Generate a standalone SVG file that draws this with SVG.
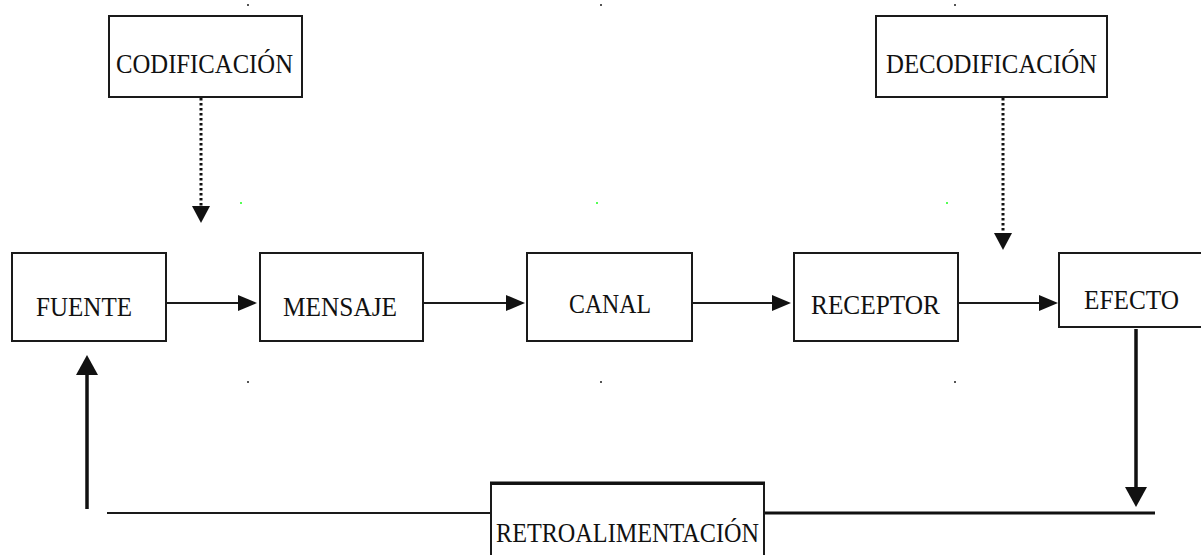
<svg xmlns="http://www.w3.org/2000/svg" width="1201" height="555" viewBox="0 0 1201 555">
<style>
.box{fill:#fff;stroke:#1a1a1a;stroke-width:2}
.lbl{font-family:"Liberation Serif","Times New Roman",serif;font-size:28px;fill:#111}
.ln{stroke:#1a1a1a;stroke-width:2;fill:none}
.thick{stroke:#111;stroke-width:3.5;fill:none}
.dot{stroke:#111;stroke-width:3;stroke-dasharray:2.5 2.5;fill:none}
.spk{fill:#555}
.grn{fill:#5f5}
</style>
<defs>
<marker id="arrH" markerUnits="userSpaceOnUse" markerWidth="19" markerHeight="16" refX="15" refY="8" orient="auto"><path d="M0,0 L19,8 L0,16 z" fill="#111"/></marker>
<marker id="arrDot" markerUnits="userSpaceOnUse" markerWidth="17" markerHeight="18" refX="13" refY="9" orient="auto"><path d="M0,0 L17,9 L0,18 z" fill="#111"/></marker>
<marker id="arrThick" markerUnits="userSpaceOnUse" markerWidth="20" markerHeight="22" refX="16" refY="11" orient="auto"><path d="M0,0 L20,11 L0,22 z" fill="#111"/></marker>
</defs>
<rect width="1201" height="555" fill="#fff"/>
<g id="specks">
<rect class="spk" x="247" y="4" width="2" height="2"/>
<rect class="spk" x="600" y="4" width="2" height="2"/>
<rect class="spk" x="954" y="4" width="2" height="2"/>
<rect class="spk" x="247" y="381" width="2" height="2"/>
<rect class="spk" x="600" y="381" width="2" height="2"/>
<rect class="spk" x="954" y="381" width="2" height="2"/>
<rect class="grn" x="240" y="202" width="2" height="2"/>
<rect class="grn" x="596" y="202" width="2" height="2"/>
<rect class="grn" x="946" y="202" width="2" height="2"/>
</g>
<g id="connectors">
<line class="ln" x1="166" y1="303" x2="253" y2="303" marker-end="url(#arrH)"/>
<line class="ln" x1="423" y1="303" x2="521" y2="303" marker-end="url(#arrH)"/>
<line class="ln" x1="692" y1="303" x2="787" y2="303" marker-end="url(#arrH)"/>
<line class="ln" x1="958" y1="303" x2="1054" y2="303" marker-end="url(#arrH)"/>
<line class="dot" x1="201" y1="98" x2="201" y2="219" marker-end="url(#arrDot)"/>
<line class="dot" x1="1003" y1="98" x2="1003" y2="246" marker-end="url(#arrDot)"/>
<line class="thick" x1="1136" y1="329" x2="1136" y2="503" marker-end="url(#arrThick)"/>
<line class="thick" x1="87" y1="509" x2="87" y2="359" marker-end="url(#arrThick)"/>
<line class="ln" x1="107" y1="513" x2="491" y2="513"/>
<line class="thick" x1="764" y1="513" x2="1155" y2="513" style="stroke-width:3"/>
</g>
<g id="codificacion">
<rect class="box" x="109" y="16" width="193" height="81"/>
<text class="lbl" x="116" y="73" textLength="177" lengthAdjust="spacingAndGlyphs">CODIFICACIÓN</text>
</g>
<g id="decodificacion">
<rect class="box" x="876" y="16" width="231" height="81"/>
<text class="lbl" x="886" y="73" textLength="211" lengthAdjust="spacingAndGlyphs">DECODIFICACIÓN</text>
</g>
<g id="fuente">
<rect class="box" x="12" y="253" width="154" height="88"/>
<text class="lbl" x="36" y="316" textLength="96" lengthAdjust="spacingAndGlyphs">FUENTE</text>
</g>
<g id="mensaje">
<rect class="box" x="260" y="253" width="163" height="88"/>
<text class="lbl" x="283" y="316" textLength="114" lengthAdjust="spacingAndGlyphs">MENSAJE</text>
</g>
<g id="canal">
<rect class="box" x="527" y="253" width="165" height="88"/>
<text class="lbl" x="569" y="313" textLength="82" lengthAdjust="spacingAndGlyphs">CANAL</text>
</g>
<g id="receptor">
<rect class="box" x="794" y="253" width="164" height="88"/>
<text class="lbl" x="811" y="314" textLength="129" lengthAdjust="spacingAndGlyphs">RECEPTOR</text>
</g>
<g id="efecto">
<rect class="box" x="1059" y="253" width="160" height="74"/>
<text class="lbl" x="1084" y="309" textLength="95" lengthAdjust="spacingAndGlyphs">EFECTO</text>
</g>
<g id="retroalimentacion">
<rect class="box" x="491" y="484" width="273" height="90"/>
<line x1="490" y1="483" x2="765" y2="483" stroke="#111" stroke-width="3"/>
<text class="lbl" x="496" y="542" textLength="263" lengthAdjust="spacingAndGlyphs">RETROALIMENTACIÓN</text>
</g>
</svg>
